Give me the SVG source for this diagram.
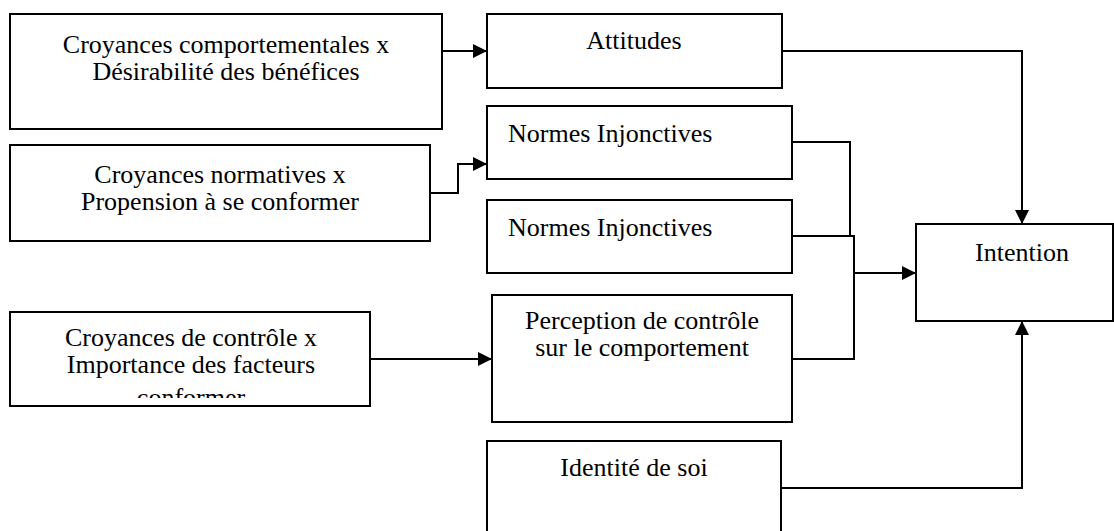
<svg xmlns="http://www.w3.org/2000/svg" width="1114" height="531" viewBox="0 0 1114 531">
  <style>
    .box { fill: #ffffff; stroke: #000000; stroke-width: 2; }
    .lbl { font-family: "Liberation Serif", "Times New Roman", serif; font-size: 26px; fill: #000000; }
    .mid { text-anchor: middle; }
    .wire { fill: none; stroke: #000000; stroke-width: 2; }
  </style>
  <defs>
    <marker id="head" markerUnits="userSpaceOnUse" markerWidth="14" markerHeight="14" viewBox="0 0 14 14" refX="14" refY="7" orient="auto">
      <path d="M0,0 L14,7 L0,14 Z" fill="#000000"/>
    </marker>
    <clipPath id="clip-control">
      <rect x="10" y="312" width="360" height="86"/>
    </clipPath>
  </defs>

  <rect width="1114" height="531" fill="#ffffff"/>

  <!-- connectors -->
  <g id="connectors">
    <path class="wire" d="M442,51 H487" marker-end="url(#head)"/>
    <path class="wire" d="M431,193 H458 V164 H487" marker-end="url(#head)"/>
    <path class="wire" d="M782,51 H1022 V224" marker-end="url(#head)"/>
    <path class="wire" d="M792,142 H850 V236"/>
    <path class="wire" d="M792,236 H854 V359 H792"/>
    <path class="wire" d="M854,273 H916" marker-end="url(#head)"/>
    <path class="wire" d="M370,359 H492" marker-end="url(#head)"/>
    <path class="wire" d="M781,488 H1022 V321" marker-end="url(#head)"/>
  </g>

  <!-- belief boxes -->
  <g id="croyances-comportementales">
    <rect class="box" x="10" y="14" width="432" height="115"/>
    <text class="lbl mid" x="226" y="53">Croyances comportementales x</text>
    <text class="lbl mid" x="226" y="80">Désirabilité des bénéfices</text>
  </g>
  <g id="croyances-normatives">
    <rect class="box" x="10" y="145" width="420" height="96"/>
    <text class="lbl mid" x="220" y="183">Croyances normatives x</text>
    <text class="lbl mid" x="220" y="210">Propension à se conformer</text>
  </g>
  <g id="croyances-controle">
    <rect class="box" x="10" y="312" width="360" height="94"/>
    <g clip-path="url(#clip-control)">
      <text class="lbl mid" x="191" y="346">Croyances de contrôle x</text>
      <text class="lbl mid" x="191" y="373">Importance des facteurs</text>
      <text class="lbl mid" x="191" y="406">conformer</text>
    </g>
  </g>

  <!-- determinant boxes -->
  <g id="attitudes">
    <rect class="box" x="487" y="14" width="295" height="74"/>
    <text class="lbl mid" x="634" y="49">Attitudes</text>
  </g>
  <g id="normes-1">
    <rect class="box" x="487" y="106" width="305" height="73"/>
    <text class="lbl" x="508" y="142">Normes Injonctives</text>
  </g>
  <g id="normes-2">
    <rect class="box" x="487" y="200" width="305" height="73"/>
    <text class="lbl" x="508" y="236">Normes Injonctives</text>
  </g>
  <g id="perception-controle">
    <rect class="box" x="492" y="295" width="300" height="127"/>
    <text class="lbl mid" x="642" y="329">Perception de contrôle</text>
    <text class="lbl mid" x="642" y="356">sur le comportement</text>
  </g>
  <g id="identite">
    <rect class="box" x="487" y="441" width="294" height="100"/>
    <text class="lbl mid" x="634" y="476">Identité de soi</text>
  </g>

  <!-- outcome -->
  <g id="intention">
    <rect class="box" x="916" y="224" width="197" height="97"/>
    <text class="lbl mid" x="1022" y="261">Intention</text>
  </g>
</svg>
